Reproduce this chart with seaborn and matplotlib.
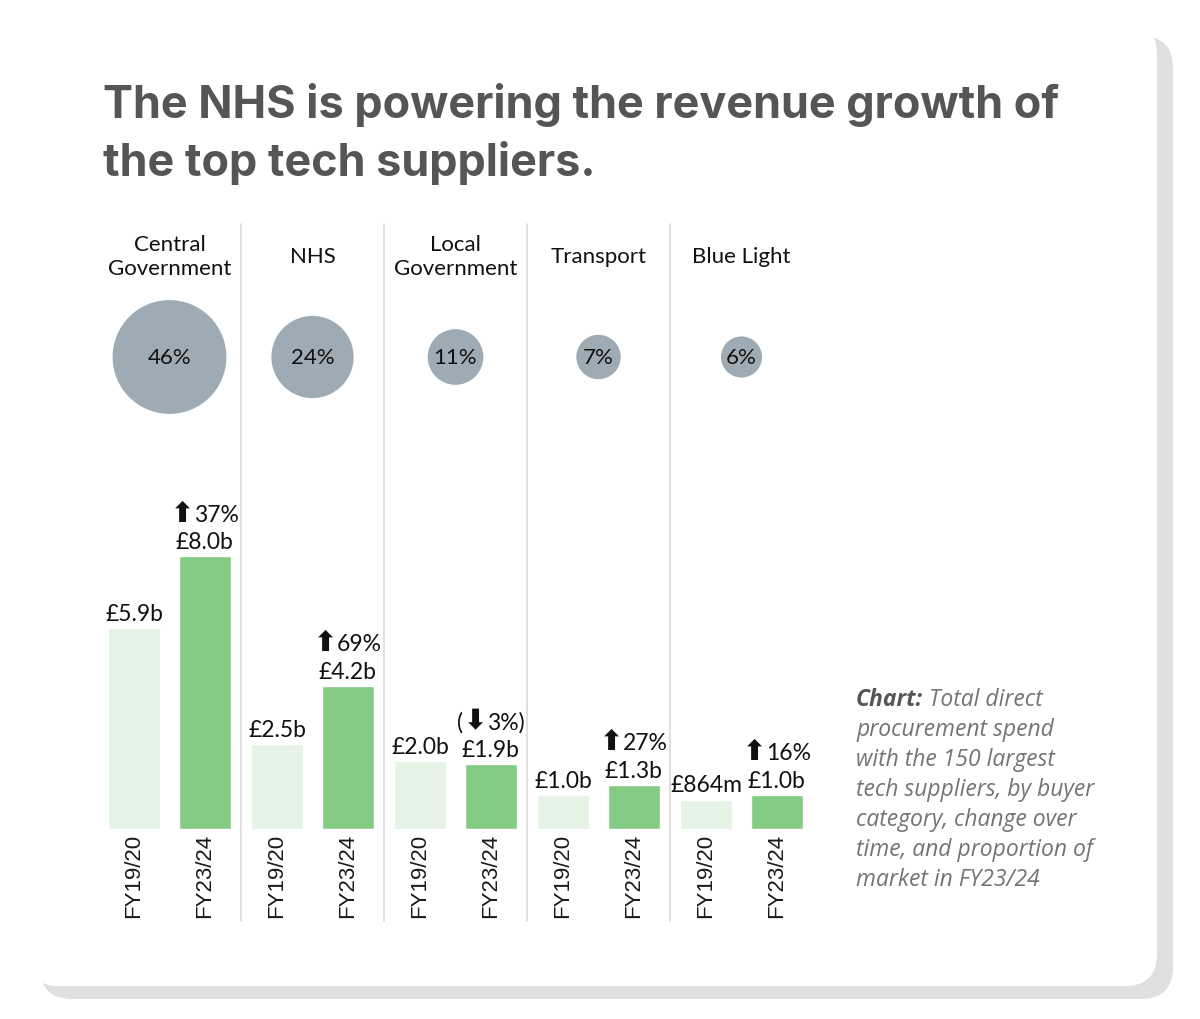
import pandas as pd
import seaborn as sns
import matplotlib.pyplot as plt
from matplotlib.patches import FancyBboxPatch
from matplotlib.transforms import blended_transform_factory

categories = ['Central\nGovernment', 'NHS', 'Local\nGovernment', 'Transport', 'Blue Light']
years = ['FY19/20', 'FY23/24']
spend_1920 = [5.9, 2.5, 2.0, 1.0, 0.864]
spend_2324 = [8.0, 4.2, 1.9, 1.3, 1.0]
labels_1920 = ['£5.9b', '£2.5b', '£2.0b', '£1.0b', '£864m']
labels_2324 = ['£8.0b', '£4.2b', '£1.9b', '£1.3b', '£1.0b']
# (before arrow, arrow, after arrow)
change_labels = [('', '⬆', '37%'), ('', '⬆', '69%'), ('(', '⬇', '3%)'), ('', '⬆', '27%'), ('', '⬆', '16%')]
market_share = [46, 24, 11, 7, 6]

df = pd.DataFrame({
    'category': categories * 2,
    'year': [years[0]] * 5 + [years[1]] * 5,
    'spend': spend_1920 + spend_2324,
})

sns.set_theme(style='white')
plt.rcParams['font.family'] = ['Lato', 'DejaVu Sans']

W, H = 1200, 1020
fig = plt.figure(figsize=(12, 10.2), dpi=100)
fig.patch.set_facecolor('white')

# card with shadow
shadow = FancyBboxPatch((0.40, 0.20), 11.33, 9.63, boxstyle='round,pad=0,rounding_size=0.32',
                        transform=fig.dpi_scale_trans, facecolor='#e0e0e0', edgecolor='none', zorder=-10)
card = FancyBboxPatch((0.27, 0.33), 11.30, 9.63, boxstyle='round,pad=0,rounding_size=0.32',
                      transform=fig.dpi_scale_trans, facecolor='white', edgecolor='none', zorder=-9)
fig.add_artist(shadow)
fig.add_artist(card)

# bars axes: baseline at y=830px, top at y=225px
base_y, top_y = 830, 225
px_per_b = 34.1
ax = fig.add_axes([98 / W, 1 - base_y / H, 715 / W, (base_y - top_y) / H])
ax.patch.set_visible(False)

sns.barplot(data=df, x='category', y='spend', hue='year', palette=['#e5f3e5', '#84cc84'],
            width=0.99, gap=0.26, saturation=1, errorbar=None, legend=False, ax=ax)
ax.set_ylim(0, (base_y - top_y) / px_per_b)
ax.set_xlim(-0.5, 4.5)
sns.despine(ax=ax, left=True, bottom=True)
ax.set_yticks([])
ax.set_xlabel('')
ax.set_ylabel('')

lab_size = 16.5
old_bars, new_bars = ax.containers[0], ax.containers[1]
ax.bar_label(old_bars, labels=labels_1920, padding=3, fontsize=lab_size, color='#111111')
ax.bar_label(new_bars, labels=labels_2324, padding=3, fontsize=lab_size, color='#111111')

# change labels: heavier arrow, whole group centred over the bar
renderer = fig.canvas.get_renderer()
for bar, (pre, arrow, post) in zip(new_bars, change_labels):
    xc = bar.get_x() + bar.get_width() / 2
    yt = bar.get_height()
    pieces = [(pre, lab_size, 'normal'), (arrow, 20, 'bold'), (post, lab_size, 'normal')]
    arts, widths = [], []
    for txt, fs, fw in pieces:
        if not txt:
            continue
        a = ax.annotate(txt, xy=(xc, yt), xytext=(0, 25.5), textcoords='offset points',
                        ha='left', va='baseline', fontsize=fs, fontweight=fw,
                        family=['Lato', 'DejaVu Sans'], color='#111111')
        arts.append(a)
        widths.append(a.get_window_extent(renderer).width * 72 / fig.dpi)
    total = sum(widths)
    xoff = -total / 2
    for a, w in zip(arts, widths):
        a.set_position((xoff, 25.5))
        xoff += w

centers = []
for a, b in zip(old_bars, new_bars):
    centers += [a.get_x() + a.get_width() / 2, b.get_x() + b.get_width() / 2]
ax.set_xticks(centers)
ax.set_xticklabels(years * 5, rotation=90, fontsize=16, color='#1a1a1a',
                   family=['Liberation Sans', 'DejaVu Sans'])
ax.tick_params(axis='x', length=0, pad=3)

trans = blended_transform_factory(ax.transData, ax.transAxes)
span = base_y - top_y
for xd in [0.5, 1.5, 2.5, 3.5]:
    ax.plot([xd, xd], [(base_y - 922) / span, 1.0], transform=trans, clip_on=False,
            color='#dcdcdc', lw=1.3)

# headers and market share bubbles
bubble_y = (base_y - 358) / px_per_b
ax.scatter(range(len(categories)), [bubble_y] * len(categories),
           s=[146 * m for m in market_share], color='#9eabb4', linewidths=0, zorder=3, clip_on=False)
for i, (cat, m) in enumerate(zip(categories, market_share)):
    ax.text(i, (base_y - 257) / span, cat, transform=trans, ha='center', va='center',
            fontsize=16, color='#111111', linespacing=1.3)
    ax.text(i, bubble_y, f'{m}%', ha='center', va='center', fontsize=16, color='#111111', zorder=4)

# title
title_font = dict(fontsize=32.4, fontweight='bold', family=['Inter', 'DejaVu Sans'], color='#555555', va='baseline')
fig.text(103 / W, 1 - 118 / H, 'The NHS is powering the revenue growth of', **title_font)
fig.text(103 / W, 1 - 176 / H, 'the top tech suppliers.', **title_font)

# note
note_fam = ['Open Sans', 'DejaVu Sans']
note_size = 16.5
note_font = dict(fontsize=note_size, style='italic', family=note_fam, va='baseline')
t = fig.text(856 / W, 1 - 706 / H, 'Chart:', fontweight='bold', color='#555555', **note_font)
ax.annotate(' Total direct', xy=(1, 0), xycoords=t, ha='left', va='bottom', fontsize=note_size,
            style='italic', family=note_fam, color='#747474', annotation_clip=False)
note_lines = ['procurement spend', 'with the 150 largest', 'tech suppliers, by buyer',
              'category, change over', 'time, and proportion of', 'market in FY23/24']
for k, line in enumerate(note_lines):
    fig.text(856 / W, 1 - (736 + 30 * k) / H, line, color='#747474', **note_font)

fig.savefig('out.png', dpi=100)
